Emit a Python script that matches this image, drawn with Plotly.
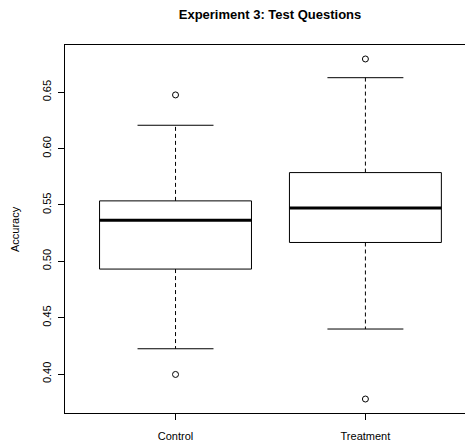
import plotly.graph_objects as go

categories = ["Control", "Treatment"]
q1 = [0.4931, 0.5167]
median = [0.5365, 0.5472]
q3 = [0.5536, 0.5787]
whisker_low = [0.4224, 0.4399]
whisker_high = [0.6207, 0.6629]
outliers = [[0.6476, 0.3996], [0.6795, 0.3778]]
y_ticks = [0.40, 0.45, 0.50, 0.55, 0.60, 0.65]
y_ticktext = ["0.40", "0.45", "0.50", "0.55", "0.60", "0.65"]

BOX_HALF = 0.4
CAP_HALF = 0.2
FONT = "Liberation Sans, Arial, Helvetica, sans-serif"
PAGE_OFFSET = 8  # default body margin of the html page
W, H = 473 - PAGE_OFFSET, 441 - PAGE_OFFSET

fig = go.Figure()
for i, cat in enumerate(categories):
    x = i + 1
    fig.add_trace(go.Scatter(
        x=[x - BOX_HALF, x + BOX_HALF, x + BOX_HALF, x - BOX_HALF, x - BOX_HALF],
        y=[q1[i], q1[i], q3[i], q3[i], q1[i]],
        mode="lines", line=dict(color="black", width=1), hoverinfo="skip"))
    fig.add_trace(go.Scatter(
        x=[x - BOX_HALF, x + BOX_HALF], y=[median[i], median[i]],
        mode="lines", line=dict(color="black", width=3), hoverinfo="skip"))
    fig.add_trace(go.Scatter(
        x=[x, x, None, x, x],
        y=[q3[i], whisker_high[i], None, q1[i], whisker_low[i]],
        mode="lines", line=dict(color="black", width=1, dash="4px,3px"),
        hoverinfo="skip"))
    fig.add_trace(go.Scatter(
        x=[x - CAP_HALF, x + CAP_HALF, None, x - CAP_HALF, x + CAP_HALF],
        y=[whisker_high[i], whisker_high[i], None, whisker_low[i], whisker_low[i]],
        mode="lines", line=dict(color="black", width=1), hoverinfo="skip"))
    fig.add_trace(go.Scatter(
        x=[x] * len(outliers[i]), y=outliers[i], mode="markers",
        marker=dict(symbol="circle-open", size=6, color="black",
                    line=dict(width=1, color="black")),
        hoverinfo="skip"))

fig.update_layout(
    width=W, height=H,
    margin=dict(l=65 - PAGE_OFFSET, r=0, t=45 - PAGE_OFFSET, b=28, autoexpand=False),
    paper_bgcolor="white", plot_bgcolor="white",
    showlegend=False,
    font=dict(family=FONT, size=11, color="black"),
    title=dict(text="<b>Experiment 3: Test Questions</b>",
               x=(270 - PAGE_OFFSET) / W, xanchor="center",
               y=1 - (14 - PAGE_OFFSET) / H, yanchor="middle",
               font=dict(family=FONT, size=13, color="black")),
    xaxis=dict(range=[0.418, 2.5666], tickvals=[1, 2], ticktext=categories,
               showgrid=False, zeroline=False, showline=True, linecolor="black",
               linewidth=1, mirror=True, ticks="outside", ticklen=6,
               tickcolor="black", ticklabelstandoff=7,
               tickfont=dict(size=11, family=FONT)),
    yaxis=dict(range=[0.3654, 0.6919], tickvals=y_ticks, ticktext=y_ticktext,
               showgrid=False, zeroline=False, showline=True, linecolor="black",
               linewidth=1, ticks="outside", ticklen=6, tickcolor="black",
               tickangle=-90, ticklabelstandoff=3,
               tickfont=dict(size=11, family=FONT)),
    annotations=[dict(text="Accuracy", textangle=-90, xref="paper", yref="paper",
                      x=(15 - 65) / 408, y=0.5, xanchor="center", yanchor="middle",
                      showarrow=False, font=dict(size=11, family=FONT))],
)

fig.write_html("out.html")
